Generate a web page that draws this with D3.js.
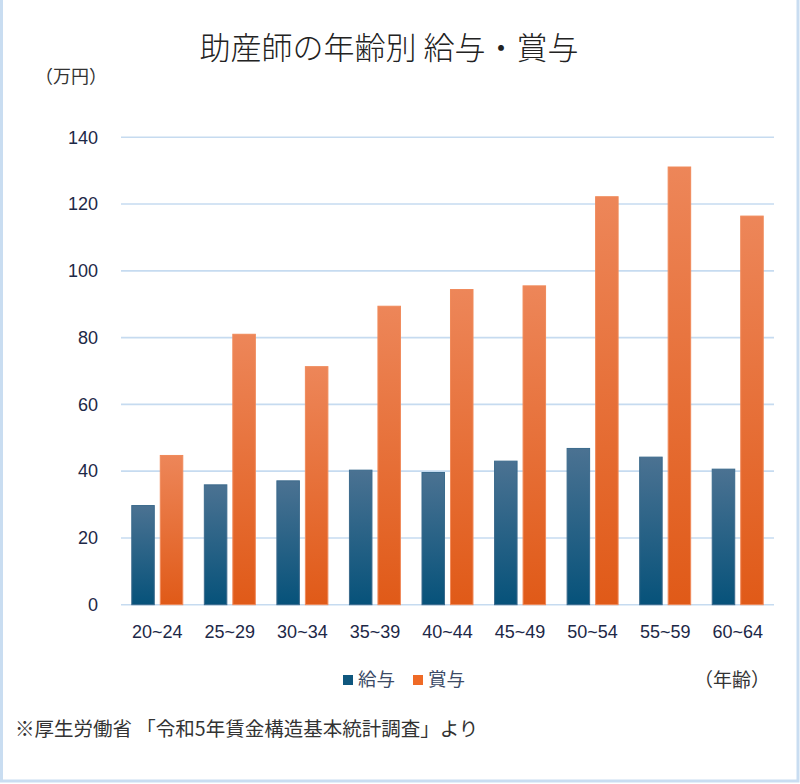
<!DOCTYPE html>
<html>
<head>
<meta charset="utf-8">
<script src="https://cdn.jsdelivr.net/npm/d3@7"></script>
<style>
  html, body { margin: 0; padding: 0; background: #fff; }
  svg text { font-family: "Noto Sans CJK JP", "Noto Sans", sans-serif; }
  svg .tick text { font-family: "Liberation Sans", Arial, sans-serif; }
</style>
</head>
<body>
<svg id="chart" width="800" height="784"></svg>
<script>
// data
const ages = ['20~24', '25~29', '30~34', '35~39', '40~44', '45~49', '50~54', '55~59', '60~64'];
const kyuyo = [29.7, 35.9, 37.1, 40.3, 39.6, 43.0, 46.8, 44.2, 40.6];
const shoyo = [44.7, 81.0, 71.3, 89.4, 94.4, 95.5, 122.2, 131.1, 116.4];
const seriesNames = ['給与', '賞与'];
const yTicks = [0, 20, 40, 60, 80, 100, 120, 140];

const svg = d3.select('#chart');
const plotLeft = 121, plotRight = 774, plotTop = 137.3, plotBottom = 604.7;

// frame round the whole picture
svg.append('rect')
  .attr('x', 1.5).attr('y', -4)
  .attr('width', 796.5).attr('height', 785)
  .attr('fill', 'none')
  .attr('stroke', '#c9ddf1')
  .attr('stroke-width', 3);

const defs = svg.append('defs');
const grads = [
  { id: 'gBlue', top: '#4b7292', bottom: '#06527a' },
  { id: 'gOrange', top: '#ed8659', bottom: '#e05a18' }
];
grads.forEach(g => {
  const lg = defs.append('linearGradient')
    .attr('id', g.id)
    .attr('x1', 0).attr('y1', 0).attr('x2', 0).attr('y2', 1);
  lg.append('stop').attr('offset', '0%').attr('stop-color', g.top);
  lg.append('stop').attr('offset', '100%').attr('stop-color', g.bottom);
});
const fills = ['url(#gBlue)', 'url(#gOrange)'];
const strokes = ['#3b6a8c', '#f08a5a'];
const legendColors = ['#0f577e', '#ef6a26'];

const y = d3.scaleLinear().domain([0, 140]).range([plotBottom, plotTop]);

const x0 = d3.scaleBand()
  .domain(ages)
  .range([plotLeft, plotRight])
  .paddingInner(0.297)
  .paddingOuter(0.1485);

const x1 = d3.scaleBand()
  .domain(seriesNames)
  .range([0, x0.bandwidth()])
  .paddingInner(0.21);

// grid
svg.append('g')
  .selectAll('line')
  .data(yTicks)
  .enter().append('line')
  .attr('x1', plotLeft).attr('x2', plotRight)
  .attr('y1', d => y(d)).attr('y2', d => y(d))
  .attr('stroke', '#c6dbf0')
  .attr('stroke-width', 1.6);

// y axis labels
const yAxis = svg.append('g')
  .attr('transform', 'translate(' + (plotLeft - 6) + ',0)')
  .call(d3.axisLeft(y).tickValues(yTicks).tickSize(0).tickPadding(17));
yAxis.select('.domain').remove();
yAxis.selectAll('text')
  .style('font-size', '18px')
  .attr('fill', '#1d2847');

// x axis labels
const xAxis = svg.append('g')
  .attr('transform', 'translate(0,' + plotBottom + ')')
  .call(d3.axisBottom(x0).tickSize(0).tickPadding(21));
xAxis.select('.domain').remove();
xAxis.selectAll('text')
  .style('font-size', '18px')
  .attr('fill', '#1d2847');

// bars
const rows = ages.map((a, i) => ({ age: a, values: [kyuyo[i], shoyo[i]] }));

const group = svg.append('g')
  .selectAll('g')
  .data(rows)
  .enter().append('g')
  .attr('transform', d => 'translate(' + x0(d.age) + ',0)');

group.selectAll('rect')
  .data(d => d.values.map((v, k) => ({ key: seriesNames[k], k: k, v: v })))
  .enter().append('rect')
  .attr('x', d => x1(d.key))
  .attr('width', x1.bandwidth())
  .attr('y', d => y(d.v))
  .attr('height', d => plotBottom - y(d.v))
  .attr('fill', d => fills[d.k])
  .attr('stroke', d => strokes[d.k])
  .attr('stroke-width', 1);

// title and unit
svg.append('text')
  .attr('x', 389).attr('y', 59)
  .attr('text-anchor', 'middle')
  .attr('font-size', 31)
  .attr('font-weight', 300)
  .attr('fill', '#222')
  .text('助産師の年齢別 給与・賞与');

svg.append('text')
  .attr('x', 35).attr('y', 83)
  .attr('font-size', 18)
  .attr('fill', '#333')
  .text('（万円）');

// legend
const legend = svg.append('g')
  .selectAll('g')
  .data(seriesNames)
  .enter().append('g')
  .attr('transform', (d, i) => 'translate(' + (343 + i * 70) + ',675)');

legend.append('rect')
  .attr('width', 10).attr('height', 10)
  .attr('fill', (d, i) => legendColors[i]);

legend.append('text')
  .attr('x', 15).attr('y', 11)
  .attr('font-size', 18.5)
  .attr('fill', '#3b4a66')
  .text(d => d);

svg.append('text')
  .attr('x', 694).attr('y', 687)
  .attr('font-size', 19)
  .attr('fill', '#333')
  .text('（年齢）');

svg.append('text')
  .attr('x', 15).attr('y', 736)
  .attr('font-size', 19.5)
  .attr('fill', '#333')
  .text('※厚生労働省 「令和5年賃金構造基本統計調査」より');
</script>
</body>
</html>
